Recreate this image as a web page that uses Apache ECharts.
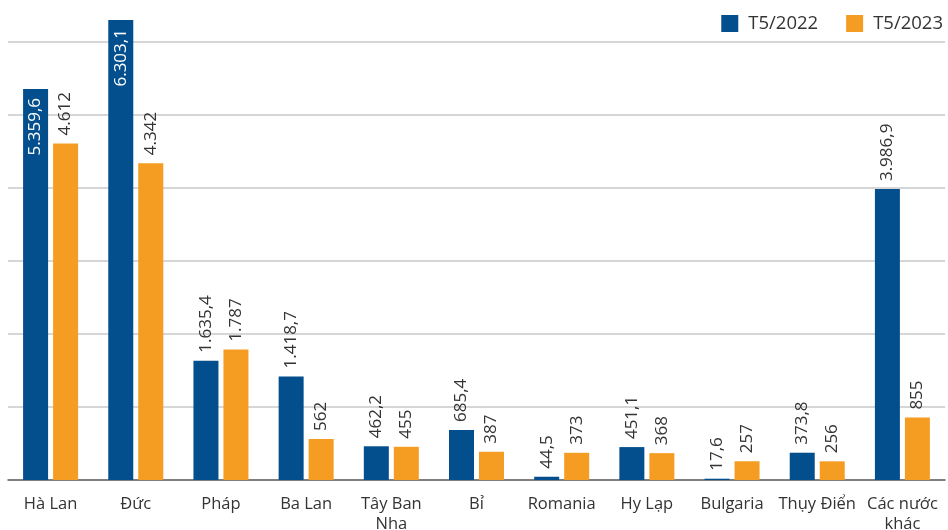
<!DOCTYPE html>
<html><head><meta charset="utf-8">
<script src="https://cdn.jsdelivr.net/npm/echarts@6/dist/echarts.min.js"></script>
<style>html,body{margin:0;padding:0;background:#fff}#c{width:948px;height:530px}</style>
</head><body><div id="c"></div>
<script>
const categories = ["Hà Lan","Đức","Pháp","Ba Lan","Tây Ban\nNha","Bỉ","Romania","Hy Lạp","Bulgaria","Thụy Điển","Các nước\nkhác"];
const seriesNames = ["T5/2022","T5/2023"];
const values2022 = [5359.6,6303.1,1635.4,1418.7,462.2,685.4,44.5,451.1,17.6,373.8,3986.9];
const values2023 = [4612,4342,1787,562,455,387,373,368,257,256,855];
const decimals = [1,0];
const insideIdx2022 = [0,1];

function fmt(v, d){
  const s = v.toFixed(d);
  const parts = s.split('.');
  const intPart = parts[0].replace(/\B(?=(\d{3})+(?!\d))/g, '.');
  return parts.length>1 ? intPart + ',' + parts[1] : intPart;
}
const FONT = "Open Sans";
const chart = echarts.init(document.getElementById('c'));
function mkData(vals, sIdx){
  return vals.map((v,i)=>{
    const inside = sIdx===0 && insideIdx2022.includes(i);
    return {value:v, label: inside ? {position:'insideTop', align:'right', color:'#fff', distance:9} : {}};
  });
}
chart.setOption({
  animation:false,
  textStyle:{fontFamily:FONT},
  legend:{right:0, top:9, itemWidth:17, itemHeight:17, itemGap:28, icon:'rect',
    textStyle:{fontSize:18.5, color:'#333', fontFamily:FONT, padding:[0,0,0,5]}, data:seriesNames},
  grid:{left:8, right:3, top:13, bottom:50, containLabel:false, outerBoundsMode:'none'},
  xAxis:{type:'category', data:categories,
    axisLine:{lineStyle:{color:'#555', width:1.5}}, axisTick:{show:false},
    axisLabel:{color:'#333', fontSize:16.5, margin:14, interval:0, lineHeight:20, fontFamily:FONT}},
  yAxis:{type:'value', min:0, max:6400, interval:1000,
    axisLabel:{show:false}, axisLine:{show:false}, axisTick:{show:false},
    splitLine:{show:true, showMaxLine:false, showMinLine:false, lineStyle:{color:'#c8c8c8', width:1.5}}},
  series:[0,1].map(si=>({
    name:seriesNames[si], type:'bar', barWidth:25, barGap:'20%',
    itemStyle:{color: si===0?'#034f8e':'#f59c22'},
    label:{show:true, position:'top', rotate:90, align:'left', verticalAlign:'middle', distance:8,
      fontSize:17, color:'#333', fontFamily:FONT,
      formatter:p=>fmt(p.value, decimals[si])},
    data: mkData(si===0?values2022:values2023, si)
  }))
});
</script></body></html>
